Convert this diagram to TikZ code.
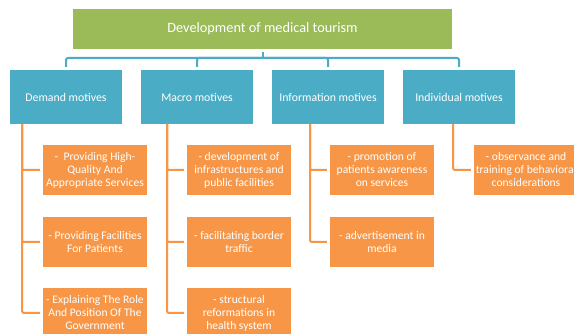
\documentclass[tikz,border=0pt]{standalone}
\usepackage{fontspec}
\setmainfont{Carlito}
\usetikzlibrary{positioning}
\definecolor{topgreen}{HTML}{9BBB59}
\definecolor{motblue}{HTML}{4BACC6}
\definecolor{itemorange}{HTML}{F79646}
\tikzset{
topbox/.style={
  fill=topgreen,
  text=white,
  minimum width=379pt,
  minimum height=40pt,
  font=\fontsize{14.3}{17}\selectfont
  },
motbox/.style={
  fill=motblue,
  text=white,
  minimum width=112pt,
  minimum height=54pt,
  font=\fontsize{11.8}{14}\selectfont
  },
itembox/.style={
  fill=itemorange,
  text=white,
  minimum width=104pt,
  minimum height=50pt,
  inner sep=0pt,
  align=center,
  font=\fontsize{11.6}{13}\selectfont
  },
blueline/.style={draw=motblue, line width=2pt},
orangeline/.style={draw=itemorange, line width=2pt, rounded corners=2pt}
}

\begin{document}
\begin{tikzpicture}[x=1pt, y=1pt]
\fill[white] (0,0) rectangle (574,-334);
\useasboundingbox (0,0) rectangle (574,-334);
\clip (0,0) rectangle (574,-334);

\node[topbox] (top) at (262.5,-29) {Development of medical tourism};

\node[motbox] (dm) at (66,-97) {Demand motives};
\node[motbox] (mm) at (197,-97) {Macro motives};
\node[motbox] (im) at (328,-97) {Information motives};
\node[motbox] (vm) at (459,-97) {Individual motives};

% demand
\node[itembox] (dm1) at (95,-170) {-\ \ Providing High-\\Quality And\\Appropriate Services};
\node[itembox] (dm2) at (95,-242) {- Providing Facilities\\For Patients};
\node[itembox] (dm3) at (95,-313) {- Explaining The Role\\And Position Of The\\Government};
% macro
\node[itembox] (mm1) at (239,-170) {- development of\\infrastructures and\\public facilities};
\node[itembox] (mm2) at (239,-242) {- facilitating border\\traffic};
\node[itembox] (mm3) at (239,-313) {- structural\\reformations in\\health system};
% information
\node[itembox] (im1) at (382,-170) {- promotion of\\patients awareness\\on services};
\node[itembox] (im2) at (382,-242) {- advertisement in\\media};
% individual
\node[itembox] (vm1) at (526,-170) {- observance and\\training of behavioral\\considerations};

% trunks under the motive boxes
\coordinate (dmt) at (22,-124);
\coordinate (mmt) at (167,-124);
\coordinate (imt) at (310,-124);
\coordinate (vmt) at (453,-124);

\coordinate (bus) at (262.5,-58);
\draw[blueline, shorten <=3pt] (top.south) -- (bus);
\foreach \m in {dm,mm,im,vm}
  \draw[blueline, rounded corners=2pt, shorten >=3pt] (bus) -| (\m.north);

\foreach \m/\i in {dm/dm1,dm/dm2,dm/dm3,mm/mm1,mm/mm2,mm/mm3,im/im1,im/im2,vm/vm1}
  \draw[orangeline, shorten >=3pt] (\m t) |- (\i.west);
\end{tikzpicture}
\end{document}
